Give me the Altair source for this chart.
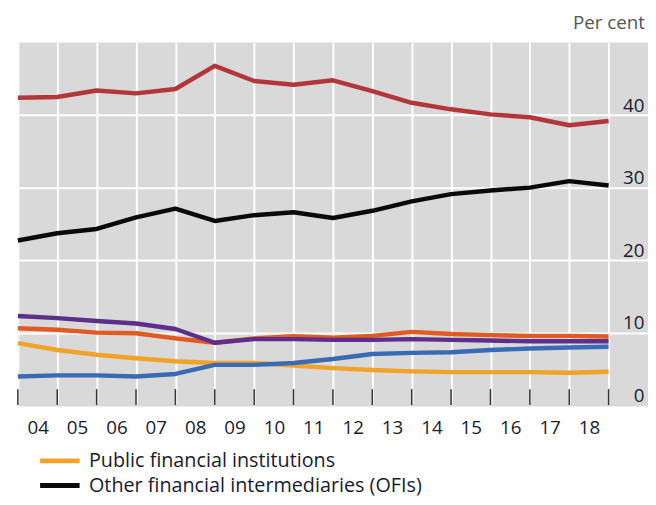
import altair as alt
import pandas as pd

# x positions: period boundaries (end-2003 ... end-2018)
periods = list(range(16))
year_labels = ["04", "05", "06", "07", "08", "09", "10", "11", "12", "13", "14", "15", "16", "17", "18"]

series_names = [
    "Banks",
    "Other financial intermediaries (OFIs)",
    "Insurance corporations",
    "Pension funds",
    "Central banks",
    "Public financial institutions",
]
banks = [42.4, 42.5, 43.4, 43.0, 43.6, 46.8, 44.7, 44.2, 44.8, 43.3, 41.7, 40.8, 40.1, 39.7, 38.6, 39.2]
ofis = [22.7, 23.7, 24.3, 25.9, 27.1, 25.4, 26.2, 26.6, 25.8, 26.8, 28.1, 29.1, 29.6, 30.0, 30.9, 30.3]
insurance = [12.3, 12.0, 11.6, 11.25, 10.5, 8.6, 9.1, 9.1, 9.0, 9.0, 9.1, 9.0, 8.9, 8.8, 8.8, 8.8]
pension = [10.6, 10.4, 10.0, 9.9, 9.2, 8.6, 9.2, 9.5, 9.3, 9.55, 10.1, 9.8, 9.65, 9.55, 9.55, 9.45]
central = [3.95, 4.1, 4.1, 3.95, 4.3, 5.55, 5.55, 5.8, 6.35, 7.05, 7.2, 7.3, 7.6, 7.8, 7.95, 8.05]
public = [8.55, 7.6, 6.95, 6.45, 6.05, 5.8, 5.8, 5.45, 5.1, 4.85, 4.65, 4.55, 4.55, 4.55, 4.45, 4.6]
series_values = [banks, ofis, insurance, pension, central, public]
series_colors = ["#b3363a", "#0a0a0a", "#5c2f8a", "#e05a22", "#3a6ab3", "#f0a326"]
legend_shown = ["Public financial institutions", "Other financial intermediaries (OFIs)"]
# drawing order (first drawn at the bottom)
draw_sequence = [5, 4, 3, 2, 1, 0]

y_ticks = [0, 10, 20, 30, 40]

rows = []
for i in draw_sequence:
    for p, v in zip(periods, series_values[i]):
        rows.append({"period": p, "series": series_names[i], "value": v})
df = pd.DataFrame(rows)

FONT = "Open Sans"
label_expr = "[" + ",".join("'" + s + "'" for s in year_labels) + "][datum.value] || ''"

xscale = alt.Scale(domain=[0, 16], nice=False, zero=False)
yscale = alt.Scale(domain=[0, 50], nice=False)

lines = alt.Chart(df).mark_line(strokeWidth=4.5, strokeJoin="round").encode(
    x=alt.X("period:Q", scale=xscale,
            axis=alt.Axis(values=periods, labelExpr=label_expr, title=None,
                          grid=True, gridColor="white", gridWidth=2,
                          ticks=False, domain=False, labelOffset=20,
                          labelFlush=False, labelOverlap=False,
                          labelFont=FONT, labelFontSize=19, labelColor="#1a1a2e",
                          labelPadding=23, labelBaseline="middle")),
    y=alt.Y("value:Q", scale=yscale,
            axis=alt.Axis(values=y_ticks, orient="right", title=None,
                          grid=True,
                          gridColor=alt.condition("datum.value == 0", alt.value("#d9d9d9"), alt.value("white")),
                          gridWidth=2, ticks=False, tickSize=0, domain=False,
                          labelAlign="right", labelPadding=-4, labelBaseline="bottom",
                          labelFlush=False,
                          labelFont=FONT, labelFontSize=19, labelColor="#1a1a2e")),
    color=alt.Color("series:N",
                    scale=alt.Scale(domain=series_names, range=series_colors),
                    legend=alt.Legend(values=legend_shown, title=None, orient="none",
                                      legendX=30, legendY=411, direction="vertical",
                                      symbolType="M-2,0H2", symbolSize=400,
                                      symbolStrokeWidth=5, labelFont=FONT,
                                      labelFontSize=20, labelColor="#1a1a2e",
                                      labelOffset=17, rowPadding=2, labelLimit=600)),
)

tick_df = pd.DataFrame({"period": periods, "lo": [0] * len(periods), "hi": [2.2] * len(periods)})
ticks = alt.Chart(tick_df).mark_rule(color="#333333", strokeWidth=1.5).encode(
    x=alt.X("period:Q", scale=xscale),
    y=alt.Y("lo:Q", scale=yscale),
    y2="hi:Q",
)

chart = alt.layer(lines, ticks).properties(
    width=638,
    height=367,
    padding={"left": 10, "top": 32, "right": 0, "bottom": 90},
    autosize=alt.AutoSizeParams(type="none"),
    title=alt.TitleParams("Per cent", anchor="end", font=FONT, fontSize=19,
                          fontWeight="normal", color="#555555", offset=10, dx=-3),
).configure_view(fill="#d9d9d9", stroke=None)

chart.save("out.html", embed_options={"renderer": "svg", "actions": False})
